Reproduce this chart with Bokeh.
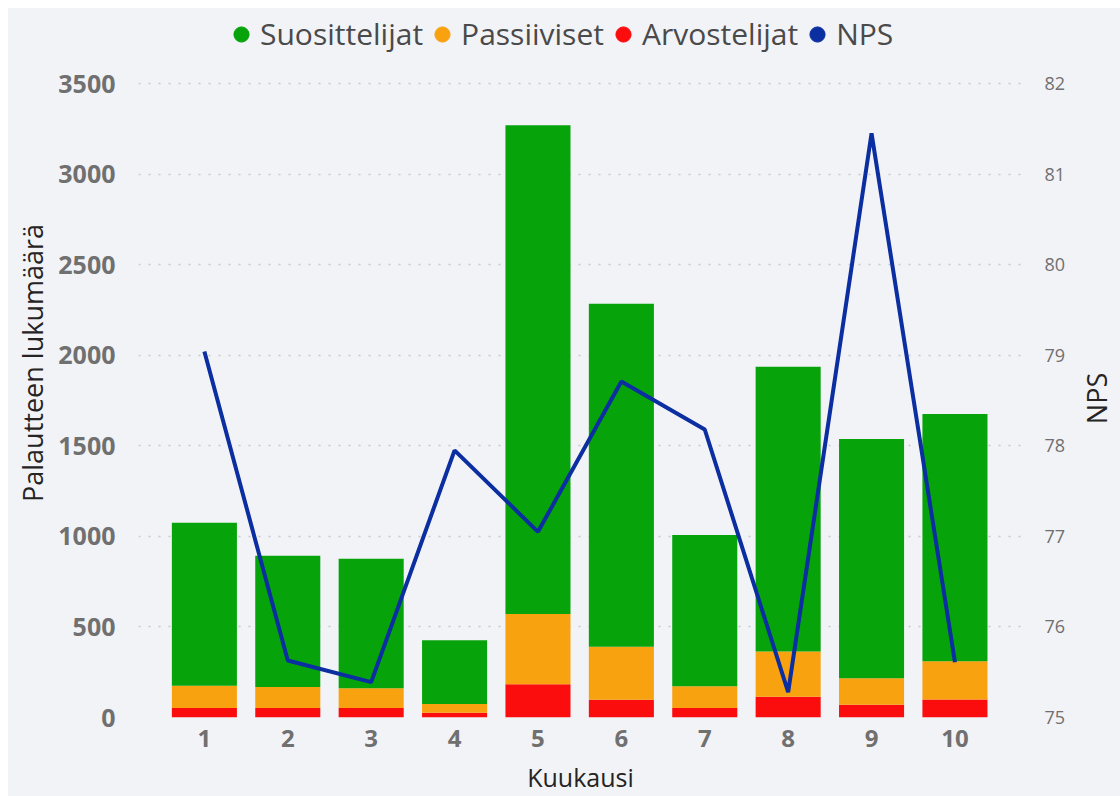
import math
from bokeh.plotting import figure
from bokeh.layouts import row
from bokeh.models import Range1d, LinearAxis, FixedTicker, Legend, LegendItem, ColumnDataSource
from bokeh.core.properties import value
from bokeh.embed import file_html
from bokeh.resources import INLINE

# ---- data ----
months = [1, 2, 3, 4, 5, 6, 7, 8, 9, 10]
arvostelijat = [52, 52, 52, 26, 184, 98, 52, 114, 70, 99]
passiiviset = [123, 117, 110, 48, 387, 292, 121, 250, 147, 212]
suosittelijat = [900, 724, 714, 353, 2699, 1894, 835, 1572, 1321, 1365]
nps = [79.04, 75.63, 75.39, 77.95, 77.05, 78.71, 78.18, 75.28, 81.45, 75.61]
left_ticks = [0, 500, 1000, 1500, 2000, 2500, 3000, 3500]
right_ticks = [75, 76, 77, 78, 79, 80, 81, 82]
series_names = ["Suosittelijat", "Passiiviset", "Arvostelijat", "NPS"]
right_title = "NPS"

# ---- style ----
BG = "#f2f3f7"
GREEN = "#06a30b"
ORANGE = "#f9a20f"
RED = "#fc0d0d"
BLUE = "#0b2ea0"
FONT = "Open Sans"
TICK_COLOR = "#707070"
TITLE_COLOR = "#252423"

W, H = 1112, 788
STRIP_W = 44                      # narrow strip on the right holding the "NPS" title
PW = W - STRIP_W
BORDER_L, BORDER_B = 130, 79
BORDER_R = PW - 1014
FRAME_H = H - BORDER_B            # frame reaches the top edge (room for legend)
PX_PER_UNIT = 634 / 3500          # 3500 gridline lies 75px below the top
y_end = FRAME_H / PX_PER_UNIT
nps_end = 75 + FRAME_H / (634 / 7)

src = ColumnDataSource(dict(month=months, arv=arvostelijat, pas=passiiviset,
                            suo=suosittelijat, nps=nps))

p = figure(width=PW, height=H,
           x_range=Range1d(0.21, 10.81), y_range=Range1d(0, y_end),
           output_backend="svg", toolbar_location=None,
           min_border_left=BORDER_L, min_border_right=BORDER_R,
           min_border_top=0, min_border_bottom=BORDER_B,
           background_fill_color=BG, border_fill_color=BG,
           outline_line_color=None)
p.extra_y_ranges = {"nps": Range1d(75, nps_end)}

bars = p.vbar_stack(["arv", "pas", "suo"], x="month", width=0.78,
                    color=[RED, ORANGE, GREEN], line_color=None, source=src)
line = p.line(x="month", y="nps", y_range_name="nps", line_width=4,
              line_color=BLUE, source=src)

# grid
p.xgrid.visible = False
p.ygrid.ticker = FixedTicker(ticks=left_ticks)
p.ygrid.grid_line_color = "#c9c9c9"
p.ygrid.grid_line_dash = "2 8"
p.ygrid.grid_line_width = 1.5

# axes
def style_axis(ax, size, weight="normal"):
    ax.axis_line_color = None
    ax.major_tick_line_color = None
    ax.minor_tick_line_color = None
    ax.major_label_text_font = FONT
    ax.major_label_text_font_size = size
    ax.major_label_text_font_style = weight
    ax.major_label_text_color = TICK_COLOR
    ax.axis_label_text_font = FONT
    ax.axis_label_text_font_style = "normal"
    ax.axis_label_text_color = TITLE_COLOR

xa = p.xaxis[0]
xa.ticker = FixedTicker(ticks=months)
style_axis(xa, "24px", "bold")
xa.axis_label = "Kuukausi"
xa.axis_label_text_font_size = "25px"
xa.major_label_standoff = 6
xa.axis_label_standoff = 10

ya = p.yaxis[0]
ya.ticker = FixedTicker(ticks=left_ticks)
style_axis(ya, "25px", "bold")
ya.axis_label = "Palautteen lukumäärä"
ya.axis_label_text_font_size = "27px"
ya.major_label_standoff = 17
ya.axis_label_standoff = 4

ra = LinearAxis(y_range_name="nps", ticker=FixedTicker(ticks=right_ticks))
style_axis(ra, "18px")
ra.major_label_standoff = 16
p.add_layout(ra, "right")

# legend with round markers (renderers hold a single NaN point: nothing drawn in the plot)
items = []
for name, col in zip(series_names, [GREEN, ORANGE, RED, BLUE]):
    lsrc = ColumnDataSource(dict(x=[float("nan")], y=[float("nan")]))
    r = p.scatter(x="x", y="y", source=lsrc, marker="circle",
                  size=15, fill_color=col, line_color=col)
    items.append(LegendItem(label=name, renderers=[r]))

legend = Legend(items=items, orientation="horizontal", location=(84, FRAME_H - 46),
                glyph_width=38, glyph_height=38, label_standoff=-3, spacing=-3,
                padding=0, margin=0, border_line_color=None,
                background_fill_alpha=0,
                label_text_font=FONT, label_text_font_size="30px",
                label_text_color="#4a4a4a")
p.add_layout(legend, "center")

# right-hand title strip: "NPS" reading bottom-to-top
# (its frame is aligned with the main frame: top 0, bottom FRAME_H)
p2 = figure(width=STRIP_W, height=H, x_range=Range1d(0, STRIP_W), y_range=Range1d(0, FRAME_H),
            output_backend="svg", toolbar_location=None,
            x_axis_location=None, y_axis_location=None,
            min_border_left=0, min_border_right=0, min_border_top=0,
            min_border_bottom=BORDER_B,
            background_fill_color=BG, border_fill_color=BG,
            outline_line_color=None)
p2.grid.visible = False
p2.text(x=[STRIP_W - 24], y=[FRAME_H - 390], text=[right_title], angle=math.pi / 2,
        text_align="center", text_baseline="middle",
        text_font=value(FONT), text_font_size="27px", text_color=TITLE_COLOR)

layout = row(p, p2, spacing=0)
layout.styles = {"margin-left": "8px", "margin-top": "8px", "background-color": BG}

open("out.html", "w").write(file_html(layout, INLINE))
